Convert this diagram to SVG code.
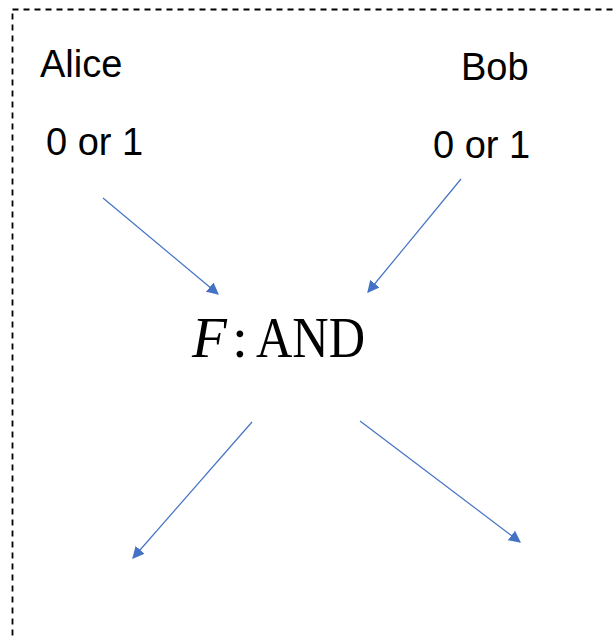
<svg xmlns="http://www.w3.org/2000/svg" width="613" height="640" viewBox="0 0 613 640">
  <style>
    .label { font-family: "Liberation Sans", Arial, sans-serif; font-size: 38px; fill: #000; }
    .math { font-family: "Liberation Serif", "Times New Roman", serif; font-size: 57px; fill: #000; }
    .conn { stroke: #4472C4; stroke-width: 1.2; fill: none; marker-end: url(#arrow); }
    .frame { fill: none; stroke: #000; stroke-width: 1.8; stroke-dasharray: 6 5; }
  </style>
  <defs>
    <marker id="arrow" viewBox="0 0 10 10" refX="9" refY="5" markerWidth="12" markerHeight="12" markerUnits="userSpaceOnUse" orient="auto">
      <path d="M0,0 L10,5 L0,10 z" fill="#4472C4"/>
    </marker>
  </defs>
  <rect width="613" height="640" fill="#fff"/>
  <!-- dashed frame, right and bottom edges run off the canvas -->
  <rect class="frame" x="12.5" y="9.5" width="620" height="650"/>

  <g id="alice">
    <text class="label" x="40" y="77">Alice</text>
    <text class="label" x="46" y="155">0 or 1</text>
  </g>
  <g id="bob">
    <text class="label" x="461" y="80">Bob</text>
    <text class="label" x="433" y="158">0 or 1</text>
  </g>
  <g id="function">
    <text class="math" x="192" y="357"><tspan font-style="italic">F</tspan><tspan x="232">:</tspan><tspan x="256" textLength="109" lengthAdjust="spacingAndGlyphs">AND</tspan></text>
  </g>

  <g id="connectors">
    <line class="conn" x1="103" y1="198" x2="218" y2="294"/>
    <line class="conn" x1="461" y1="179" x2="368" y2="292"/>
    <line class="conn" x1="252" y1="422" x2="133" y2="558"/>
    <line class="conn" x1="360" y1="421" x2="520" y2="542"/>
  </g>
</svg>
